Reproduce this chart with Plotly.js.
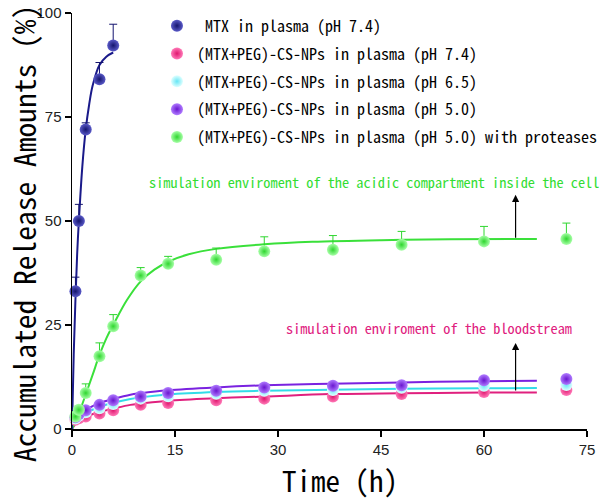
<!DOCTYPE html>
<html>
<head>
<meta charset="utf-8">
<script src="https://cdn.plot.ly/plotly-3.0.1.min.js"></script>
<style>
body { margin: 0; background: #fff; }
#graph1 { width: 600px; height: 499px; }
</style>
</head>
<body>
<div id="graph1"></div>
<script>
// measured points (h, %)
var tMTX = [0.5, 1, 2, 4, 6];
var mtxVal = [33.1, 50, 72, 84.1, 92.2];
var mtxErr = [3.4, 4, 1.6, 4, 5.1];

var tNP = [0.5, 1, 2, 4, 6, 10, 14, 21, 28, 38, 48, 60, 72];
var np74 = [2.2, 2.6, 3.0, 3.7, 4.5, 5.8, 6.25, 6.9, 7.3, 7.8, 8.4, 8.9, 9.4];
var np65 = [2.5, 3.2, 4.0, 5.0, 6.0, 7.3, 7.9, 8.5, 9.2, 9.4, 9.9, 10.4, 10.6];
var np50 = [2.8, 3.6, 4.5, 5.8, 6.9, 7.8, 8.65, 9.2, 10.0, 10.4, 10.5, 11.7, 12.0];
var np50p = [3.0, 4.6, 8.65, 17.5, 24.7, 36.9, 39.7, 40.7, 42.7, 43.1, 44.3, 45.1, 45.7];
var lowErr = [0.6, 0.6, 0.7, 0.7, 0.8, 0.8, 0.8, 0.8, 0.8, 0.8, 0.8, 0.8, 0.8];
var np50pErr = [1.2, 1.0, 2.2, 3.2, 2.8, 1.9, 1.8, 2.8, 3.5, 3.4, 3.2, 3.6, 3.8];

// fitted curves
var fitMTXt = [0, 0.25, 0.5, 0.75, 1, 1.5, 2, 2.5, 3, 4, 5, 6];
var fitMTXy = [0, 18, 31, 42, 50, 63, 72, 78, 82.5, 87.5, 89.5, 90.5];

var fitLowT = [0, 0.5, 1, 2, 4, 6, 8.5, 10, 14, 21, 28, 37.6, 48, 60, 67.7];
var fit74 = [0, 1.2, 1.9, 2.9, 4.1, 4.9, 5.8, 6.1, 6.8, 7.4, 7.8, 8.4, 8.6, 8.75, 8.8];
var fit65 = [0, 1.8, 2.7, 3.9, 5.3, 6.3, 7.2, 7.6, 8.3, 8.9, 9.2, 9.45, 9.65, 9.8, 9.85];
var fit50 = [0, 2.2, 3.2, 4.6, 6.2, 7.2, 8.25, 8.6, 9.3, 10.0, 10.5, 10.9, 11.2, 11.5, 11.6];

var fitPt = [0, 1, 2, 3, 4, 5, 6, 8, 10, 12, 14, 17, 21, 28, 35, 45, 55, 67.7];
var fitP = [0, 3.8, 8.3, 13, 17.8, 21.8, 25, 31, 35.5, 38.3, 40.2, 42, 43.3, 44.4, 45, 45.4, 45.6, 45.7];

var names = [
  '\u00a0MTX in plasma (pH 7.4)',
  '(MTX+PEG)-CS-NPs in plasma (pH 7.4)',
  '(MTX+PEG)-CS-NPs in plasma (pH 6.5)',
  '(MTX+PEG)-CS-NPs in plasma (pH 5.0)',
  '(MTX+PEG)-CS-NPs in plasma (pH 5.0) with proteases'
];

var gothic = '"Noto Sans Mono CJK JP", "Noto Sans CJK JP", "Liberation Mono", monospace';

function fitLine(xs, ys, col) {
  return { x: xs, y: ys, mode: 'lines', type: 'scatter', showlegend: false,
    hoverinfo: 'skip', line: { color: col, width: 2, shape: 'spline' } };
}
function pts(xs, ys, err, name, light, dark, g) {
  return { x: xs, y: ys, name: name, legendgroup: g, mode: 'markers', type: 'scatter',
    cliponaxis: false,
    marker: { size: 12, color: light, gradient: { type: 'radial', color: dark } },
    error_y: { type: 'data', symmetric: false, array: err, arrayminus: err.map(function () { return 0; }),
      color: dark, thickness: 1, width: 4 } };
}

var data = [
  fitLine(fitLowT, fit74, '#e0207e'),
  fitLine(fitLowT, fit65, '#33dce8'),
  fitLine(fitLowT, fit50, '#7a22e0'),
  fitLine(fitPt, fitP, '#3ae03a'),
  fitLine(fitMTXt, fitMTXy, '#1a1a8a'),
  pts(tMTX, mtxVal, mtxErr, names[0], '#5a5ac8', '#14146e', 'a'),
  pts(tNP, np74, lowErr, names[1], '#ff7ab8', '#e0186f', 'b'),
  pts(tNP, np65, lowErr, names[2], '#e0ffff', '#66e6f5', 'c'),
  pts(tNP, np50, lowErr, names[3], '#b07cff', '#6a16d0', 'd'),
  pts(tNP, np50p, np50pErr, names[4], '#a8ffa8', '#2fd62f', 'e')
];

var layout = {
  width: 600,
  height: 499,
  margin: { l: 72, r: 13, t: 13, b: 70, autoexpand: false },
  paper_bgcolor: '#fff',
  plot_bgcolor: '#fff',
  showlegend: true,
  legend: {
    x: 0.165, y: 1.01, xanchor: 'left', yanchor: 'top',
    bgcolor: 'rgba(0,0,0,0)', tracegroupgap: 4,
    font: { family: gothic, size: 16, color: '#000' }
  },
  xaxis: {
    range: [0, 75], tickvals: [0, 15, 30, 45, 60, 75],
    showgrid: false, zeroline: false, showline: true, linecolor: '#000', linewidth: 1.5,
    ticks: 'outside', ticklen: 6, tickcolor: '#000', tickwidth: 1.5,
    tickfont: { family: 'Liberation Sans, Arial', size: 15, color: '#222' }
  },
  yaxis: {
    range: [0, 100], tickvals: [0, 25, 50, 75, 100],
    showgrid: false, zeroline: false, showline: true, linecolor: '#000', linewidth: 1.5,
    ticks: 'outside', ticklen: 6, tickcolor: '#000', tickwidth: 1.5,
    tickfont: { family: 'Liberation Sans, Arial', size: 15, color: '#222' }
  },
  annotations: [
    // axis titles
    { x: 0.521, y: -0.12, xref: 'paper', yref: 'paper', xanchor: 'center', yanchor: 'middle',
      showarrow: false, text: 'Time (h)', font: { family: gothic, size: 29, color: '#000' } },
    { x: -0.094, y: 0.47, xref: 'paper', yref: 'paper', xanchor: 'center', yanchor: 'middle',
      showarrow: false, textangle: -90, borderpad: 0,
      text: 'Accumulated Release Amounts (%)', font: { family: gothic, size: 29.5, color: '#000' } },
    // region labels and arrows
    { x: 44, y: 59.4, xref: 'x', yref: 'y', showarrow: false,
      text: 'simulation enviroment of the acidic compartment inside the cell',
      font: { family: gothic, size: 14.3, color: '#33dd33' } },
    { x: 52, y: 24.3, xref: 'x', yref: 'y', showarrow: false,
      text: 'simulation enviroment of the bloodstream',
      font: { family: gothic, size: 14.3, color: '#e0207e' } },
    { x: 64.6, y: 56.3, ax: 64.6, ay: 45.6, xref: 'x', yref: 'y', axref: 'x', ayref: 'y',
      text: '', showarrow: true, arrowhead: 2, arrowsize: 1.2, arrowwidth: 1.2, arrowcolor: '#000' },
    { x: 64.6, y: 20.7, ax: 64.6, ay: 8.9, xref: 'x', yref: 'y', axref: 'x', ayref: 'y',
      text: '', showarrow: true, arrowhead: 2, arrowsize: 1.2, arrowwidth: 1.2, arrowcolor: '#000' }
  ]
};

Plotly.newPlot('graph1', data, layout, { displayModeBar: false, staticPlot: true });
</script>
</body>
</html>
